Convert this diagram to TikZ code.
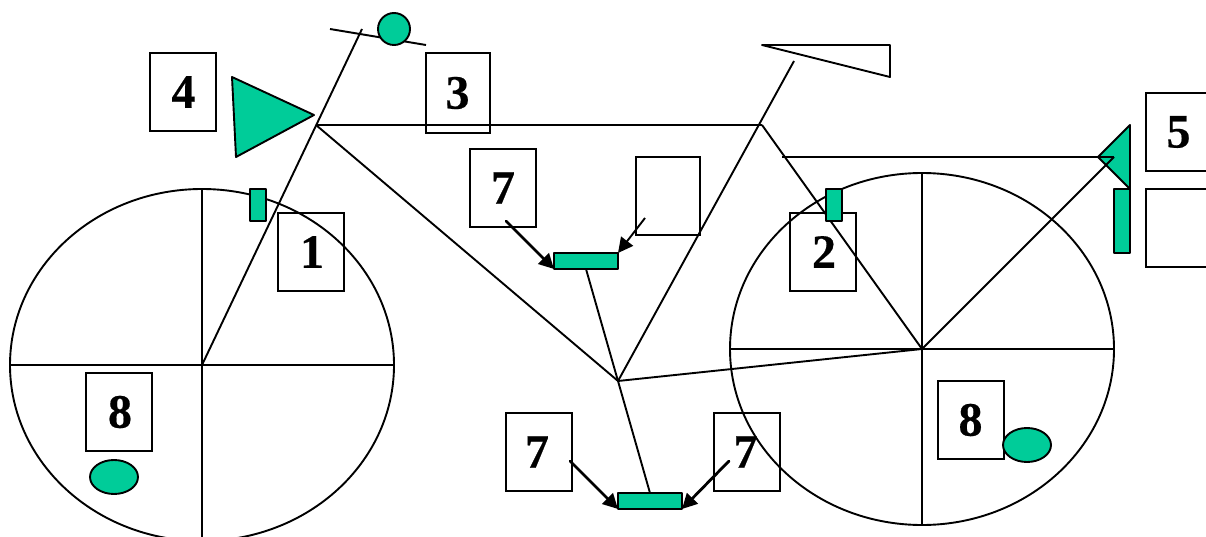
\documentclass[tikz,border=0pt]{standalone}
\usepackage{fontspec}
\setmainfont[BoldFeatures={FakeBold=0.4}]{Liberation Serif}
\usetikzlibrary{arrows.meta,shapes.geometric}
\definecolor{partgreen}{HTML}{00CC99}
\tikzset{
  ln/.style={line width=1.9pt,black,line join=round},
  numbox/.style={ln,draw,rectangle,line join=miter,inner sep=0pt,outer sep=0pt,minimum width=66pt,minimum height=78pt,font=\bfseries\fontsize{48}{50}\selectfont},
  wheel/.style={ln,draw,ellipse,inner sep=0pt,outer sep=0pt,minimum width=384pt,minimum height=352pt},
  part/.style={ln,draw,fill=partgreen,rectangle,inner sep=0pt,outer sep=0pt},
  blob/.style={ln,draw,fill=partgreen,ellipse,inner sep=0pt,outer sep=0pt,minimum width=48pt,minimum height=34pt},
  thickarrow/.style={line width=2.8pt,black,-{Triangle[length=15pt,width=15pt]},line cap=round},
  thinarrow/.style={line width=1.9pt,black,-{Triangle[length=15pt,width=15pt]}}
}
\begin{document}
\begin{tikzpicture}[x=1pt,y=-1pt]
\clip (0,0) rectangle (1206,537);
\fill[white] (0,0) rectangle (1206,537);
% frame points
\coordinate (head) at (316,125);
\coordinate (seat) at (762,125);
\coordinate (crank) at (618,381);
\coordinate (hubL) at (202,365);
\coordinate (hubR) at (922,349);
\coordinate (barTop) at (362,29);
\coordinate (postTop) at (794,61);
\coordinate (barL) at (330,29);
\coordinate (barR) at (426,45);
\coordinate (brakeL) at (782,157);
\coordinate (brakeR) at (1098,157);
\coordinate (forkTop) at (1114,157);
% wheels
\node[wheel] (wheelL) at (hubL) {};
\node[wheel] (wheelR) at (hubR) {};
\draw[ln] (wheelL.north) -- (wheelL.south);
\draw[ln] (wheelL.west) -- (wheelL.east);
\draw[ln] (wheelR.north) -- (wheelR.south);
\draw[ln] (wheelR.west) -- (wheelR.east);
% green triangles sit under the frame lines
\draw[ln,fill=partgreen] (232,77) -- (314,115) -- (236,157) -- cycle;
\draw[ln,fill=partgreen] (1130,125) -- (1098,157) -- (1130,189) -- cycle;
% frame
\draw[ln] (hubL) -- (barTop);
\draw[ln] (barL) -- (barR);
\draw[ln] (head) -- (seat);
\draw[ln] (head) -- (crank);
\draw[ln] (crank) -- (postTop);
\draw[ln] (seat) -- (hubR);
\draw[ln] (crank) -- (hubR);
\draw[ln] (hubR) -- (forkTop);
\draw[ln] (brakeL) -- (forkTop);
% saddle
\draw[ln] (762,45) -- (890,45) -- (890,77) -- cycle;
% number boxes
\node[numbox] (b4) at (183,92) {\kern1pt 4};
\node[numbox,minimum width=64pt,minimum height=80pt] (b3) at (458,93) {3\kern1pt};
\node[numbox] (b1) at (311,252) {\kern2pt 1};
\node[numbox] (b2) at (823,252) {\kern2pt 2};
\node[numbox] (b7a) at (503,188) {7};
\node[numbox,minimum width=64pt] (bempty) at (668,196) {};
\node[numbox] (b5) at (1179,132) {5\kern1pt};
\node[numbox] (bemptyR) at (1179,228) {};
\node[numbox] (b8L) at (119,412) {\kern2pt 8};
\node[numbox] (b8R) at (971,420) {8\kern1pt};
\node[numbox] (b7b) at (539,452) {7\kern4pt};
\node[numbox] (b7c) at (747,452) {7\kern3pt};
% green parts
\node[part,minimum width=16pt,minimum height=32pt] (brakeF) at (258,205) {};
\node[part,minimum width=16pt,minimum height=32pt] (brakeB) at (834,205) {};
\node[part,minimum width=16pt,minimum height=64pt] (grip) at (1122,221) {};
\node[part,minimum width=64pt,minimum height=16pt] (pedalT) at (586,261) {};
\node[part,minimum width=64pt,minimum height=16pt] (pedalB) at (650,501) {};
\node[blob] (blobL) at (114,477) {};
\node[blob] (blobR) at (1027,445) {};
\node[ln,draw,fill=partgreen,circle,inner sep=0pt,outer sep=0pt,minimum size=32pt] (bell) at (394,29) {};
% pedal stem
\draw[ln] (pedalT.south) -- (crank);
\draw[ln] (crank) -- (pedalB.north);
% arrows
\coordinate (a1) at (506,221);
\coordinate (a2) at (645,218);
\coordinate (a3) at (570,461);
\coordinate (a4) at (729,461);
\draw[thickarrow] (a1) -- (pedalT.south west);
\draw[thinarrow] (a2) -- (pedalT.north east);
\draw[thickarrow] (a3) -- (pedalB.south west);
\draw[thickarrow] (a4) -- (pedalB.south east);
\end{tikzpicture}
\end{document}
